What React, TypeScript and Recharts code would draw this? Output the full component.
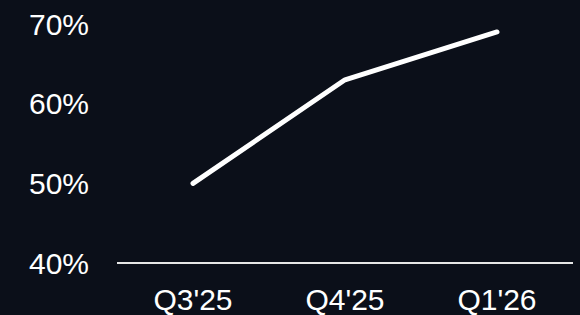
import React from 'react';
import { LineChart, Line, XAxis, YAxis } from 'recharts';

const categories = ["Q3'25", "Q4'25", "Q1'26"];
const values = [50, 63, 69];
const yTicks = [40, 50, 60, 70];

const data = categories.map((c, i) => ({ name: c, value: values[i] }));

const FONT = "'Liberation Sans', Arial, sans-serif";

export default function App() {
  return (
    <div style={{ position: 'absolute', left: 0, top: 0, width: 580, height: 315, background: '#0b0f19' }}>
      <LineChart width={580} height={315} data={data} margin={{ top: 24, right: 7, bottom: 0, left: 0 }}>
        <XAxis
          dataKey="name"
          padding={{ left: 76, right: 76 }}
          axisLine={{ stroke: '#e6e6e6', strokeWidth: 2 }}
          tickLine={false}
          tickSize={0}
          tickMargin={26}
          height={52}
          tick={{ fill: '#ffffff', fontSize: 30, fontFamily: FONT }}
          interval={0}
        />
        <YAxis
          width={117}
          domain={[40, 70]}
          ticks={yTicks}
          tickFormatter={(v: number) => `${v}%`}
          axisLine={false}
          tickLine={false}
          tickSize={0}
          tickMargin={28}
          tick={{ fill: '#ffffff', fontSize: 30, fontFamily: FONT }}
        />
        <Line
          type="linear"
          dataKey="value"
          stroke="#ffffff"
          strokeWidth={5}
          strokeLinecap="round"
          strokeLinejoin="round"
          dot={false}
          activeDot={false}
          isAnimationActive={false}
        />
      </LineChart>
    </div>
  );
}
